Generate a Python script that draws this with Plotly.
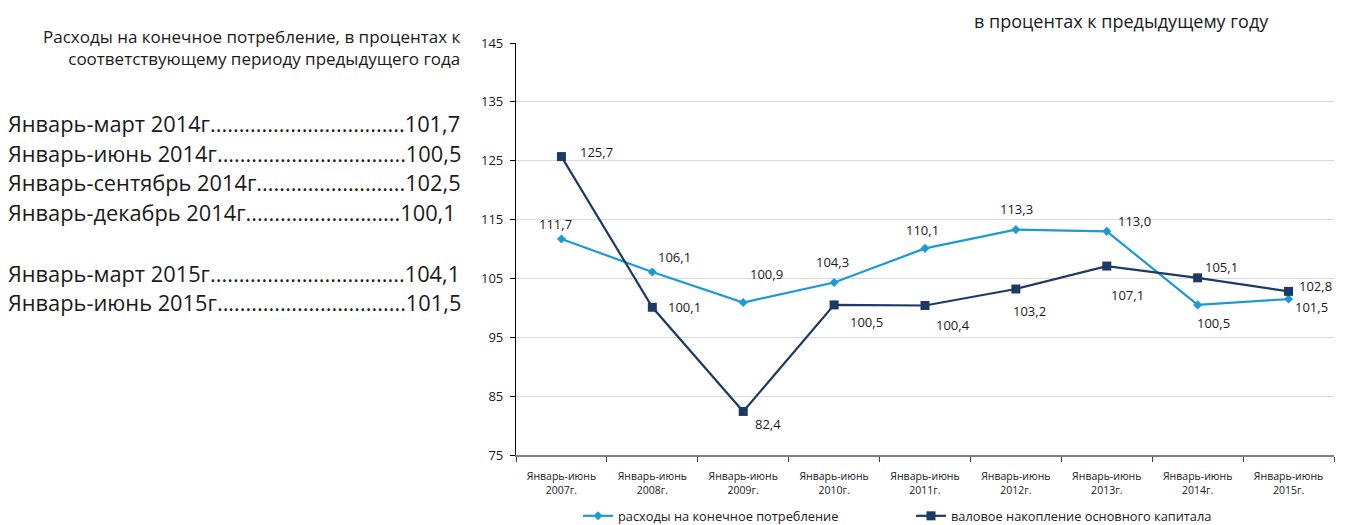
import plotly.graph_objects as go

categories = ["Январь-июнь<br>2007г.", "Январь-июнь<br>2008г.", "Январь-июнь<br>2009г.",
              "Январь-июнь<br>2010г.", "Январь-июнь<br>2011г.", "Январь-июнь<br>2012г.",
              "Январь-июнь<br>2013г.", "Январь-июнь<br>2014г.", "Январь-июнь<br>2015г."]
consumption = [111.7, 106.1, 100.9, 104.3, 110.1, 113.3, 113.0, 100.5, 101.5]
capital = [125.7, 100.1, 82.4, 100.5, 100.4, 103.2, 107.1, 105.1, 102.8]
series_names = ["расходы на конечное потребление", "валовое накопление основного капитала"]
y_ticks = [75, 85, 95, 105, 115, 125, 135, 145]

side_title = "Расходы на конечное потребление, в процентах к<br>соответствующему периоду предыдущего года"
side_labels = ["Январь-март 2014г.", "Январь-июнь 2014г.", "Январь-сентябрь 2014г.",
               "Январь-декабрь 2014г.", "", "Январь-март 2015г.", "Январь-июнь 2015г."]
side_values = ["101,7", "100,5", "102,5", "100,1", "", "104,1", "101,5"]
side_dots = [33, 32, 25, 26, 0, 33, 32]
chart_title = "в процентах к предыдущему году"

LIGHT = "#1b9ad7"
DARK = "#1c3a63"
TEXT = "#1a1a1a"
BODY = "Open Sans, Liberation Sans, sans-serif"

# label offsets (px) per point
light_off = [(-6, 15), (22, 15), (23, 29), (-2, 21), (-3, 18), (1, 21), (28, 10), (16, -18), (23, -8)]
dark_off = [(35, 5), (32, 0), (25, -13), (32, -17), (28, -19), (14, -22), (21, -29), (24, 11), (27, 5)]

fig = go.Figure()
fig.add_trace(go.Scatter(x=categories, y=consumption, mode="lines+markers", name=series_names[0],
                         line=dict(color=LIGHT, width=2.2),
                         marker=dict(symbol="diamond", size=7, color=LIGHT)))
fig.add_trace(go.Scatter(x=categories, y=capital, mode="lines+markers", name=series_names[1],
                         line=dict(color=DARK, width=2.2),
                         marker=dict(symbol="square", size=9, color=DARK)))

ann = []
def fmt(v):
    return f"{v:.1f}".replace(".", ",")
for vals, offs in ((consumption, light_off), (capital, dark_off)):
    for c, v, (dx, dy) in zip(categories, vals, offs):
        ann.append(dict(x=c, y=v, xref="x", yref="y", text=fmt(v), showarrow=False,
                        xshift=dx, yshift=dy, font=dict(family=BODY, size=13, color=TEXT)))

# page has an 8px body margin; figure geometry in figure px
OFF = 8
W, H = 1354 - OFF, 525 - OFF
L, T = 516 - OFF, 43 - OFF
R = W - (1334 - OFF)
B = H - (455 - OFF)
pw, ph = W - L - R, H - T - B
def px(x):  # screen px -> paper
    return (x - OFF - L) / pw
def py(y):
    return (H - B - (y - OFF)) / ph

ann.append(dict(xref="paper", yref="paper", x=px(1121), y=py(OFF), text=chart_title, showarrow=False,
                font=dict(family=BODY, size=18, color=TEXT), xanchor="center", yanchor="top",
                borderpad=0))
ann.append(dict(xref="paper", yref="paper", x=px(462), y=py(47), text=side_title, showarrow=False,
                align="right", xanchor="right", yanchor="middle",
                font=dict(family=BODY, size=17, color=TEXT)))
line_y = [123, 153, 183, 212, 242, 273, 302]
for lab, val, nd, yy in zip(side_labels, side_values, side_dots, line_y):
    if not lab:
        continue
    ann.append(dict(xref="paper", yref="paper", x=px(7), y=py(yy), text=lab + "." * nd + val,
                    showarrow=False, xanchor="left", yanchor="middle", borderpad=0,
                    font=dict(family=BODY, size=21.8, color=TEXT)))

fig.update_layout(
    width=W, height=H, margin=dict(l=L, r=R, t=T, b=B, autoexpand=False),
    paper_bgcolor="white", plot_bgcolor="white",
    showlegend=True,
    legend=dict(orientation="h", x=px(578), xanchor="left", y=py(516), yanchor="middle",
                font=dict(family=BODY, size=12.8, color=TEXT), entrywidth=288,
                itemwidth=30),
    annotations=ann,
    xaxis=dict(type="category", range=[-0.5, 8.5], showgrid=False, showline=True,
               linecolor="#808080", linewidth=1.5, ticks="outside", tickson="boundaries",
               ticklen=5, tickcolor="#404040", ticklabelstandoff=11, automargin=False,
               tickfont=dict(family=BODY, size=10.5, color=TEXT)),
    yaxis=dict(range=[75, 145], tickvals=y_ticks, showgrid=True, gridcolor="#d9d9d9",
               gridwidth=1, showline=True, linecolor="black", linewidth=1.2,
               ticks="outside", ticklen=5, tickcolor="black", zeroline=False,
               automargin=False, ticklabelstandoff=4,
               tickfont=dict(family=BODY, size=13, color=TEXT)),
)
fig.write_html("out.html")
